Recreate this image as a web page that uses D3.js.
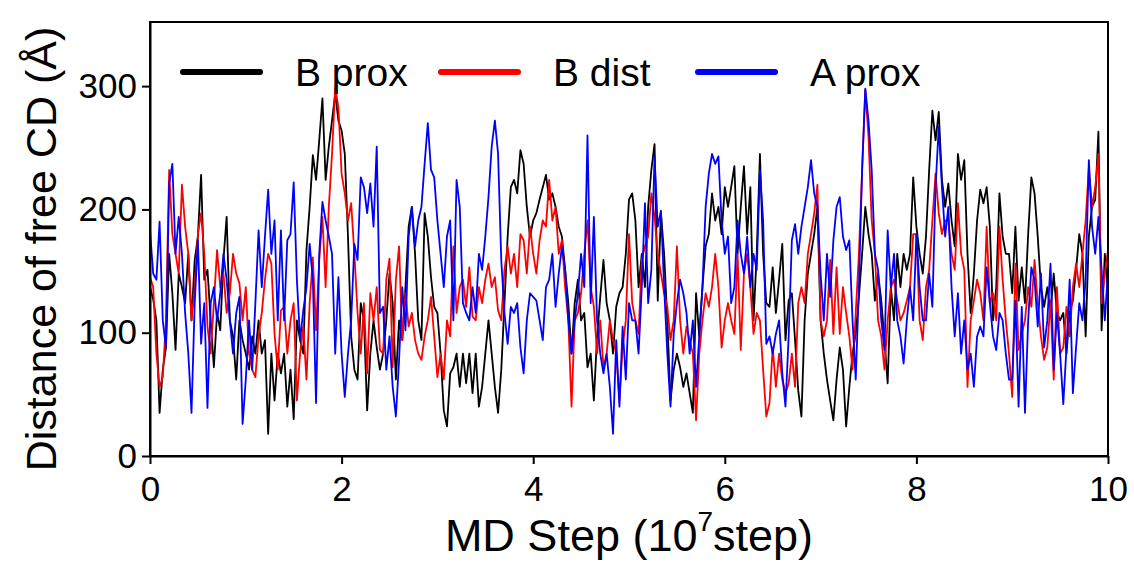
<!DOCTYPE html>
<html>
<head>
<meta charset="utf-8">
<script src="https://cdn.jsdelivr.net/npm/d3@7"></script>
<style>
  body { margin: 0; background: #fff; }
  text { font-family: "Liberation Sans", Arial, sans-serif; }
</style>
</head>
<body>
<div id="chart"></div>
<script>
// sampling step of the MD trajectory (10^7 step units)
const stepSize = 1 / 30;

// B prox (black)
const bProx = [
  137,127,110,35,70,88,164,132,86,148,137,124,164,110,159,178,228,143,151,110,72,116,102,159,194,110,97,62,110,94,
  83,70,97,83,110,83,94,18,83,45,83,67,83,40,70,30,110,94,83,167,202,244,224,256,290,224,251,272,294,272,
  264,245,178,97,70,62,124,110,37,83,110,88,70,83,110,148,124,62,110,94,137,186,202,164,110,94,197,178,145,121,
  116,83,37,24,67,72,83,56,83,59,83,51,83,40,56,83,110,83,56,35,70,124,178,218,224,213,248,237,202,178,
  191,197,208,218,228,208,213,202,186,178,151,124,83,124,143,110,116,72,83,45,97,129,159,124,110,83,121,132,137,164,
  208,213,191,137,164,137,202,232,253,126,197,164,110,45,70,83,72,56,67,51,35,132,97,137,170,180,213,191,202,180,
  218,202,218,235,164,202,235,180,218,110,164,245,164,124,121,153,116,143,172,94,126,132,94,53,32,110,148,164,180,202,
  110,83,62,45,29,62,88,70,24,56,83,99,129,164,202,180,164,126,148,126,94,59,137,110,164,137,164,151,164,226,
  186,164,148,178,232,280,256,279,224,202,221,191,170,245,224,240,164,116,148,191,216,205,218,186,110,137,213,178,164,164,
  132,186,126,153,124,180,226,213,178,137,121,137,116,148,116,110,116,83,116,126,151,180,164,97,178,202,208,263,102,164,132
];

// B dist (red)
const bDist = [
  145,137,83,56,64,110,232,180,164,148,220,186,164,110,137,180,197,164,105,83,124,167,137,148,116,132,164,148,140,110,
  137,83,70,64,97,116,143,164,156,99,70,118,121,83,110,124,45,83,105,62,124,161,102,159,194,137,202,245,299,283,
  229,213,191,205,164,116,83,124,67,132,110,137,86,83,143,160,72,143,170,94,132,105,116,94,83,78,97,110,129,97,
  64,83,62,110,97,170,116,137,143,121,153,113,110,137,124,143,156,137,145,118,110,151,170,148,164,137,180,175,148,186,
  164,148,175,191,186,224,191,202,164,175,137,110,40,110,116,132,164,191,137,121,83,110,72,83,110,94,83,45,88,110,
  180,124,110,99,159,170,178,213,194,164,148,132,121,94,110,170,110,83,105,94,83,29,83,110,132,121,137,164,137,88,
  110,124,110,99,164,86,148,164,137,99,116,110,70,32,43,88,56,83,62,51,59,83,56,124,137,124,164,180,197,220,
  110,97,110,159,99,153,99,137,116,97,70,116,164,232,297,259,191,164,110,97,70,110,137,143,126,110,116,126,137,180,
  180,110,94,137,151,191,229,197,180,191,191,164,151,205,164,151,56,110,126,143,132,110,186,124,132,110,186,143,110,83,
  48,156,86,99,110,137,121,159,124,97,78,88,126,62,137,83,88,121,97,137,156,137,164,191,234,202,218,245,124,148,167
];

// A prox (blue)
const aProx = [
  183,148,143,190,110,88,221,237,164,194,164,116,83,35,124,175,91,124,39,124,137,110,132,164,143,110,83,116,129,26,
  62,110,70,124,183,137,178,216,164,191,110,183,110,175,180,222,143,94,118,137,172,143,43,164,206,191,178,164,83,145,
  83,48,83,110,172,159,226,218,197,221,186,251,116,121,70,97,56,32,78,137,102,178,202,170,191,202,237,270,232,226,
  191,164,137,178,191,110,224,202,124,116,110,137,116,164,151,178,210,251,272,245,159,116,91,121,116,124,88,67,110,132,
  129,126,110,94,137,143,164,121,148,170,151,110,83,110,132,164,137,260,124,194,110,83,67,83,56,18,94,40,105,62,
  124,110,110,83,137,205,124,151,243,186,199,137,83,40,99,124,143,132,116,83,110,56,97,137,202,229,245,237,243,191,
  164,178,124,137,191,164,148,178,137,164,151,232,191,91,97,83,99,110,67,40,97,175,188,164,186,202,218,240,213,202,
  148,110,164,129,175,202,210,178,167,175,110,62,137,232,298,272,232,164,151,110,86,183,137,164,110,97,75,110,137,110,
  180,137,110,110,148,121,218,267,218,178,202,137,97,132,83,110,70,83,56,97,105,97,153,124,97,86,116,110,83,62,
  62,126,40,121,35,110,153,143,105,148,88,110,156,70,116,83,42,88,143,51,88,124,110,143,240,186,164,194,151,110,151
];

const seriesNames = ["B prox", "B dist", "A prox"];
const seriesColors = ["#000000", "#ff0000", "#0000ff"];
const xTicks = [0, 2, 4, 6, 8, 10];
const yTicks = [0, 100, 200, 300];

const width = 1134, height = 562;
const margin = { top: 22, right: 26, bottom: 106, left: 150 };

const svg = d3.select("#chart")
  .append("svg")
  .attr("width", width)
  .attr("height", height);

const x = d3.scaleLinear()
  .domain([0, 10])
  .range([margin.left, width - margin.right]);

const y = d3.scaleLinear()
  .domain([0, 352])
  .range([height - margin.bottom, margin.top]);

// data lines
const allSeries = [bProx, bDist, aProx];
const line = d3.line()
  .x((d, i) => x(i * stepSize))
  .y((d) => y(d));

svg.append("g")
  .selectAll("path")
  .data(allSeries)
  .enter()
  .append("path")
  .attr("fill", "none")
  .attr("stroke", (d, i) => seriesColors[i])
  .attr("stroke-width", 1.8)
  .attr("stroke-linejoin", "round")
  .attr("d", line);

// frame
svg.append("rect")
  .attr("x", margin.left)
  .attr("y", margin.top)
  .attr("width", width - margin.left - margin.right)
  .attr("height", height - margin.top - margin.bottom)
  .attr("fill", "none")
  .attr("stroke", "#000")
  .attr("stroke-width", 2);

// axes
const xAxis = svg.append("g")
  .attr("transform", `translate(0,${height - margin.bottom})`)
  .call(d3.axisBottom(x).tickValues(xTicks).tickSize(8).tickSizeOuter(0).tickPadding(12));

const yAxis = svg.append("g")
  .attr("transform", `translate(${margin.left},0)`)
  .call(d3.axisLeft(y).tickValues(yTicks).tickSize(8).tickSizeOuter(0).tickPadding(5));

[xAxis, yAxis].forEach((g) => {
  g.select(".domain").attr("stroke-width", 2);
  g.selectAll(".tick line").attr("stroke-width", 2);
  g.selectAll(".tick text")
    .attr("font-family", "Liberation Sans, Arial, sans-serif")
    .attr("font-size", 35)
    .attr("fill", "#000");
});

// axis titles
const xTitle = svg.append("text")
  .attr("x", 629)
  .attr("y", 551)
  .attr("text-anchor", "middle")
  .attr("font-size", 45);
xTitle.append("tspan").text("MD Step (10");
xTitle.append("tspan").attr("dy", -20).attr("font-size", 28).text("7");
xTitle.append("tspan").attr("dy", 20).text("step)");

svg.append("text")
  .attr("transform", "translate(56,249) rotate(-90)")
  .attr("text-anchor", "middle")
  .attr("font-size", 43)
  .text("Distance of free CD (Å)");

// legend
const legendLines = [183, 441, 698];
const legend = svg.append("g")
  .selectAll("g")
  .data(seriesNames)
  .enter()
  .append("g")
  .attr("transform", (d, i) => `translate(${legendLines[i]},72)`);

legend.append("line")
  .attr("x1", 0)
  .attr("x2", 77)
  .attr("stroke", (d, i) => seriesColors[i])
  .attr("stroke-width", 6)
  .attr("stroke-linecap", "round");

legend.append("text")
  .attr("x", 112)
  .attr("y", 14)
  .attr("font-size", 39)
  .text((d) => d);
</script>
</body>
</html>
